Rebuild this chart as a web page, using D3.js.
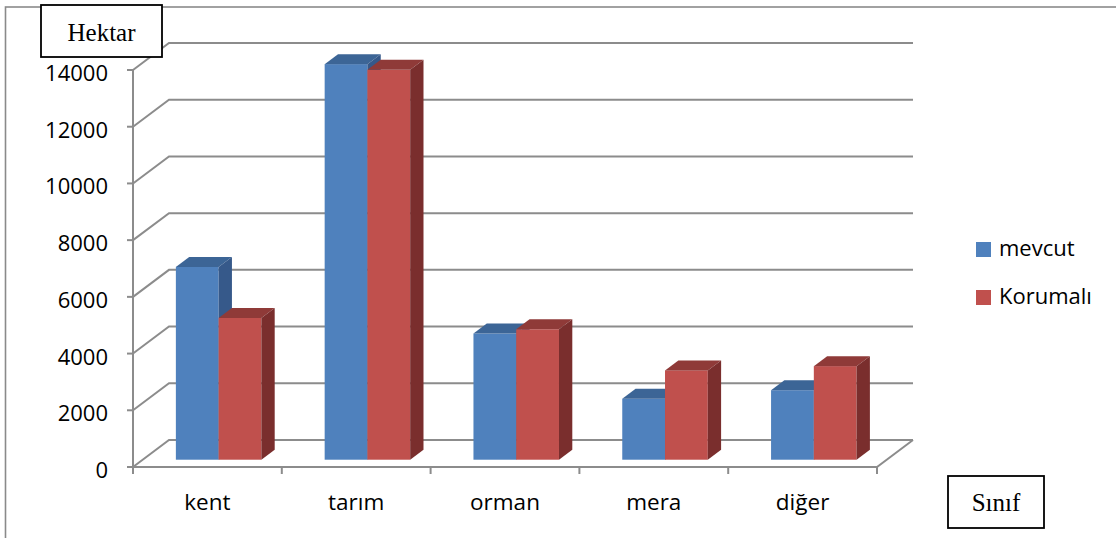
<!DOCTYPE html>
<html>
<head>
<meta charset="utf-8">
<script src="https://cdn.jsdelivr.net/npm/d3@7"></script>
<style>
  html, body { margin: 0; padding: 0; background: #fff; }
  svg { display: block; }
</style>
</head>
<body>
<svg id="chart" width="1116" height="538"></svg>
<script>
// Arazi sınıflarına göre alan (hektar)
const categories = ["kent", "tarım", "orman", "mera", "diğer"];
const seriesNames = ["mevcut", "Korumalı"];
const mevcut = [6800, 13950, 4450, 2150, 2450];
const korumali = [5000, 13750, 4600, 3150, 3300];
const yTicks = [0, 2000, 4000, 6000, 8000, 10000, 12000, 14000];

const seriesValues = [mevcut, korumali];
const faces = [
  { front: "#4F81BD", top: "#3C6596", side: "#36598A" },
  { front: "#C0504D", top: "#8F3A38", side: "#7A2E2D" }
];

const svg = d3.select("#chart");
const font = "'Open Sans', sans-serif";
const gridColor = "#8c8c8c";

// 3D projection: depth 0 = front plane, depth 1 = back wall
const depthX = 36, depthY = -27;
const barDepth0 = 0.27, barDepth1 = 0.64;

const x = d3.scaleBand().domain(categories).range([133, 877]);
const y = d3.scaleLinear().domain([0, 14000]).range([467, 70]);
const xs = d3.scaleBand().domain(seriesNames).range([1.5, x.bandwidth() + 1.5]).paddingOuter(0.74);

// outer frame
svg.append("rect")
  .attr("x", 5.5).attr("y", 7).attr("width", 1300).attr("height", 700)
  .attr("fill", "none").attr("stroke", "#8a8a8a").attr("stroke-width", 1.6);

const grid = svg.append("g").attr("stroke", gridColor).attr("stroke-width", 2).attr("fill", "none");

// left wall slants + back wall gridlines
yTicks.forEach(v => {
  const x0 = x.range()[0], x1 = x.range()[1];
  grid.append("path").attr("d", d3.line()([
    [x0, y(v)], [x0 + depthX, y(v) + depthY], [x1 + depthX, y(v) + depthY]
  ]));
});
// floor outline
grid.append("path").attr("d", d3.line()([
  [x.range()[0], y(0)], [x.range()[1], y(0)], [x.range()[1] + depthX, y(0) + depthY]
]));

// value axis
const axisG = svg.append("g");
axisG.append("line")
  .attr("x1", x.range()[0]).attr("x2", x.range()[0])
  .attr("y1", y(14000)).attr("y2", y(0) + 1)
  .attr("stroke", gridColor).attr("stroke-width", 2);
yTicks.forEach(v => {
  axisG.append("line")
    .attr("x1", x.range()[0] - 6).attr("x2", x.range()[0])
    .attr("y1", y(v)).attr("y2", y(v))
    .attr("stroke", gridColor).attr("stroke-width", 2);
  axisG.append("text")
    .attr("x", 108).attr("y", y(v) + 11)
    .attr("text-anchor", "end")
    .attr("font-family", font).attr("font-size", 22).attr("fill", "#000")
    .text(v);
});

// category axis ticks + labels
const catTicks = categories.map(c => x(c)).concat([x.range()[1]]);
catTicks.forEach(px => {
  axisG.append("line")
    .attr("x1", px).attr("x2", px).attr("y1", y(0)).attr("y2", y(0) + 7)
    .attr("stroke", gridColor).attr("stroke-width", 2);
});
categories.forEach(c => {
  axisG.append("text")
    .attr("x", x(c) + x.bandwidth() / 2).attr("y", 510)
    .attr("text-anchor", "middle")
    .attr("font-family", font).attr("font-size", 22.5).attr("fill", "#000")
    .text(c);
});

// bars
const bars = svg.append("g");
categories.forEach((c, ci) => {
  seriesNames.forEach((s, si) => {
    const v = seriesValues[si][ci];
    const fx = x(c) + xs(s) + depthX * barDepth0;
    const fw = xs.bandwidth();
    const fTop = y(v) + depthY * barDepth0;
    const fBot = y(0) + depthY * barDepth0;
    const ddx = depthX * (barDepth1 - barDepth0);
    const ddy = depthY * (barDepth1 - barDepth0);
    const col = faces[si];
    const g = bars.append("g");
    g.append("rect")
      .attr("x", fx).attr("y", fTop).attr("width", fw).attr("height", fBot - fTop)
      .attr("fill", col.front);
    g.append("path")
      .attr("d", d3.line()([[fx, fTop], [fx + ddx, fTop + ddy], [fx + fw + ddx, fTop + ddy], [fx + fw, fTop]]) + "Z")
      .attr("fill", col.top);
    g.append("path")
      .attr("d", d3.line()([[fx + fw, fTop], [fx + fw + ddx, fTop + ddy], [fx + fw + ddx, fBot + ddy], [fx + fw, fBot]]) + "Z")
      .attr("fill", col.side);
  });
});

// legend
const legend = svg.append("g");
seriesNames.forEach((s, i) => {
  const ly = 242 + i * 48;
  legend.append("rect")
    .attr("x", 976).attr("y", ly).attr("width", 15).attr("height", 15)
    .attr("fill", faces[i].front);
  legend.append("text")
    .attr("x", 999).attr("y", ly + 14)
    .attr("font-family", font).attr("font-size", 22).attr("fill", "#000")
    .text(s);
});

// axis title boxes
function titleBox(bx, by, bw, bh, label, baseline) {
  svg.append("rect")
    .attr("x", bx).attr("y", by).attr("width", bw).attr("height", bh)
    .attr("fill", "#fff").attr("stroke", "#000").attr("stroke-width", 1.8);
  svg.append("text")
    .attr("x", bx + bw / 2).attr("y", baseline)
    .attr("text-anchor", "middle")
    .attr("font-family", "'Liberation Serif', 'Times New Roman', serif")
    .attr("font-size", 25).attr("fill", "#000")
    .text(label);
}
titleBox(41, 5, 121, 52, "Hektar", 40.5);
titleBox(948, 476, 96, 52, "Sınıf", 511);
</script>
</body>
</html>
